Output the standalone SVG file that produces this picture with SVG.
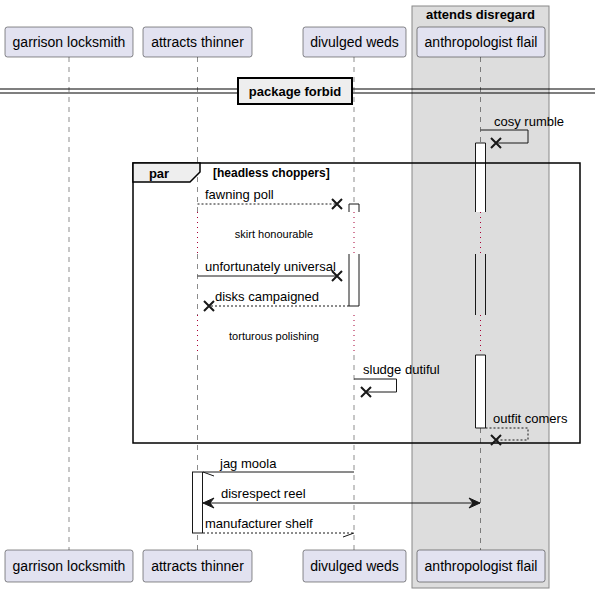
<svg xmlns="http://www.w3.org/2000/svg" width="595" height="592" viewBox="0 0 595 592">
  <style>
    text { font-family: "Liberation Sans", Arial, sans-serif; fill: #000; }
    .pname { font-size: 14px; text-anchor: middle; }
    .msg { font-size: 13px; }
    .delay { font-size: 11px; text-anchor: middle; }
    .bold { font-weight: bold; }
    .part { fill: #E2E2F0; stroke: #181818; stroke-width: 0.5; }
    .life { stroke: #181818; stroke-width: 0.5; stroke-dasharray: 5 5; fill: none; }
    .dots { stroke: #A80036; stroke-width: 1; stroke-dasharray: 1 4; fill: none; }
    .act { fill: #FFFFFF; stroke: #181818; stroke-width: 1; }
    .line { stroke: #181818; stroke-width: 1; fill: none; }
    .dash { stroke: #181818; stroke-width: 1; stroke-dasharray: 2 2; fill: none; }
    .x { stroke: #181818; stroke-width: 2; fill: none; }
  </style>
  <defs>
    <path id="cross" d="M-5,-5 L5,5 M-5,5 L5,-5"/>
  </defs>

  <!-- box grouping anthropologist flail -->
  <g id="box-attends-disregard">
    <rect x="412" y="6" width="137" height="582" fill="#DDDDDD" stroke="#888888" stroke-width="1"/>
    <text x="480.5" y="19" class="bold" font-size="13" text-anchor="middle">attends disregard</text>
  </g>

  <!-- lifelines -->
  <g id="lifelines">
    <path class="life" d="M69,57 V550"/>
    <path class="life" d="M197.5,57 V212 M197.5,254 V315 M197.5,355 V550"/>
    <path class="life" d="M354,57 V204 M354,355 V550"/>
    <path class="life" d="M480.5,57 V143 M480.5,428 V550"/>
    <!-- delay sections -->
    <path class="dots" d="M197.5,212 V254 M354,212 V254 M480.5,212 V254"/>
    <path class="dots" d="M197.5,315 V355 M354,315 V355 M480.5,315 V355"/>
  </g>

  <!-- activations -->
  <g id="activations">
    <path class="act" d="M475.5,212 V143 H485.5 V212"/>
    <path class="act" d="M475.5,254 V315 M485.5,254 V315"/>
    <path class="act" d="M475.5,355 V428 H485.5 V355 Z" fill="#FFFFFF"/>
    <path class="act" d="M349,212 V204 H359 V212"/>
    <path class="act" d="M349,254 V306 H359 V254"/>
    <rect class="act" x="192.5" y="472" width="10" height="61"/>
  </g>

  <!-- participants -->
  <g id="garrison-locksmith">
    <rect class="part" x="5" y="27" width="128" height="30" rx="2.5"/>
    <text class="pname" x="69" y="47">garrison locksmith</text>
    <rect class="part" x="5" y="550" width="128" height="32" rx="2.5"/>
    <text class="pname" x="69" y="571">garrison locksmith</text>
  </g>
  <g id="attracts-thinner">
    <rect class="part" x="143" y="27" width="109" height="30" rx="2.5"/>
    <text class="pname" x="197.5" y="47">attracts thinner</text>
    <rect class="part" x="143" y="550" width="109" height="32" rx="2.5"/>
    <text class="pname" x="197.5" y="571">attracts thinner</text>
  </g>
  <g id="divulged-weds">
    <rect class="part" x="303" y="27" width="103" height="30" rx="2.5"/>
    <text class="pname" x="354.5" y="47">divulged weds</text>
    <rect class="part" x="303" y="550" width="103" height="32" rx="2.5"/>
    <text class="pname" x="354.5" y="571">divulged weds</text>
  </g>
  <g id="anthropologist-flail">
    <rect class="part" x="417" y="27" width="128" height="30" rx="2.5"/>
    <text class="pname" x="481" y="47">anthropologist flail</text>
    <rect class="part" x="417" y="550" width="128" height="32" rx="2.5"/>
    <text class="pname" x="481" y="571">anthropologist flail</text>
  </g>

  <!-- divider -->
  <g id="divider-package-forbid">
    <path d="M0,89 H595 M0,93 H595" stroke="#000" stroke-width="1.2" fill="none"/>
    <rect x="238" y="78" width="114" height="26" fill="#EEEEEE" stroke="#000" stroke-width="2"/>
    <text x="295" y="96" class="bold" font-size="13" text-anchor="middle">package forbid</text>
  </g>

  <!-- par fragment -->
  <g id="par-headless-choppers">
    <rect x="133" y="163" width="447" height="280" fill="none" stroke="#000" stroke-width="1.5"/>
    <path d="M133,163 H200 V172 L190,182 H133 Z" fill="#EEEEEE" stroke="#000" stroke-width="1.5"/>
    <text x="159" y="178" class="bold" font-size="13" text-anchor="middle">par</text>
    <text x="213" y="177" class="bold" font-size="12">[headless choppers]</text>
  </g>

  <!-- delays -->
  <g id="delays">
    <text class="delay" x="274" y="238">skirt honourable</text>
    <text class="delay" x="274" y="340">torturous polishing</text>
  </g>

  <!-- messages -->
  <g id="connectors">
    <!-- cosy rumble -->
    <path class="line" d="M480.5,130 H528 V143 H496"/>
    <use href="#cross" class="x" x="496" y="143"/>
    <text class="msg" x="494" y="126">cosy rumble</text>

    <!-- fawning poll -->
    <path class="dash" d="M197.5,204 H337"/>
    <use href="#cross" class="x" x="337" y="204"/>
    <text class="msg" x="205" y="199">fawning poll</text>

    <!-- unfortunately universal -->
    <path class="line" d="M197.5,276 H337"/>
    <use href="#cross" class="x" x="337" y="276"/>
    <text class="msg" x="205" y="271">unfortunately universal</text>

    <!-- disks campaigned -->
    <path class="dash" d="M349,306 H209"/>
    <use href="#cross" class="x" x="209" y="306"/>
    <text class="msg" x="215" y="301">disks campaigned</text>

    <!-- sludge dutiful -->
    <path class="line" d="M354,379 H396.5 V392 H366"/>
    <use href="#cross" class="x" x="366" y="392"/>
    <text class="msg" x="363" y="374">sludge dutiful</text>

    <!-- outfit comers -->
    <path class="dash" d="M485.5,428 H528 V440 H496"/>
    <use href="#cross" class="x" x="496" y="440"/>
    <text class="msg" x="493" y="423">outfit comers</text>

    <!-- jag moola -->
    <path class="line" d="M354,472 H203 L214,476"/>
    <text class="msg" x="220" y="468">jag moola</text>

    <!-- disrespect reel -->
    <path class="line" d="M203,503 H480"/>
    <path d="M203,503 L214,498 L210,503 L214,508 Z" fill="#181818" stroke="#181818"/>
    <path d="M480,503 L469,498 L473,503 L469,508 Z" fill="#181818" stroke="#181818"/>
    <text class="msg" x="221" y="498">disrespect reel</text>

    <!-- manufacturer shelf -->
    <path class="dash" d="M203,533 H354"/>
    <path class="line" d="M354,533 L343,537"/>
    <text class="msg" x="205" y="528">manufacturer shelf</text>
  </g>
</svg>
